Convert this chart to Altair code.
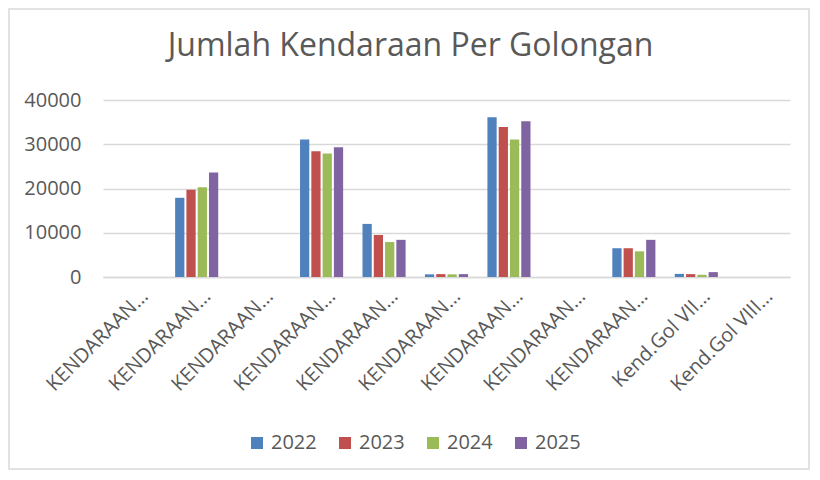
import json
import altair as alt
import pandas as pd

categories = [
    "KENDARAAN GOL I", "KENDARAAN GOL II", "KENDARAAN GOL III",
    "KENDARAAN GOL IVA", "KENDARAAN GOL IVB", "KENDARAAN GOL VA",
    "KENDARAAN GOL VB", "KENDARAAN GOL VIA", "KENDARAAN GOL VIB",
    "Kend.Gol VII (panjang 10-12 m)", "Kend.Gol VIII (panjang 12-16 m)",
]
tick_labels = ["KENDARAAN…"] * 9 + ["Kend.Gol VII…", "Kend.Gol VIII…"]
years = ["2022", "2023", "2024", "2025"]
v2022 = [0, 17900, 0, 31100, 12000, 600, 36100, 0, 6500, 700, 0]
v2023 = [0, 19700, 0, 28400, 9500, 650, 33900, 0, 6500, 650, 0]
v2024 = [0, 20300, 0, 27900, 7900, 600, 31100, 0, 5800, 500, 0]
v2025 = [0, 23600, 0, 29300, 8400, 650, 35200, 0, 8400, 1100, 0]
colors = ["#4F81BD", "#C0504D", "#9BBB59", "#8064A2"]
y_ticks = [0, 10000, 20000, 30000, 40000]

rows = []
for yr, vals in zip(years, [v2022, v2023, v2024, v2025]):
    for c, v in zip(categories, vals):
        rows.append({"Golongan": c, "Tahun": yr, "Jumlah": v})
df = pd.DataFrame(rows)

FONT = "Open Sans"
GREY = "#595959"
W, H = 687, 177

label_expr = (
    json.dumps(tick_labels, ensure_ascii=False)
    + "[indexof(" + json.dumps(categories, ensure_ascii=False) + ", datum.label)]"
)

bars = alt.Chart(df).mark_bar().encode(
    x=alt.X("Golongan:N", sort=categories,
            scale=alt.Scale(paddingInner=0.31, paddingOuter=0.155),
            axis=alt.Axis(title=None, labelAngle=-45, labelAlign="right",
                          labelBaseline="alphabetic", labelPadding=20,
                          labelOffset=15, labelExpr=label_expr,
                          labelFont=FONT, labelFontSize=20, labelColor=GREY,
                          ticks=False, domainColor="#D9D9D9", domainWidth=1.5,
                          labelLimit=400)),
    xOffset=alt.XOffset("Tahun:N", sort=years,
                        scale=alt.Scale(paddingInner=0.18, paddingOuter=0)),
    y=alt.Y("Jumlah:Q", scale=alt.Scale(domain=[0, 40000], nice=False),
            axis=alt.Axis(title=None, values=y_ticks, format="d", ticks=False,
                          domain=False, gridColor="#D9D9D9", gridWidth=1.5,
                          labelFont=FONT, labelFontSize=20, labelColor=GREY,
                          labelPadding=22)),
    color=alt.Color("Tahun:N", sort=years,
                    scale=alt.Scale(domain=years, range=colors),
                    legend=alt.Legend(title=None, orient="none",
                                      direction="horizontal", legendX=144,
                                      legendY=333, symbolType="square",
                                      symbolSize=144, symbolStrokeWidth=0,
                                      labelFont=FONT, labelFontSize=20,
                                      labelColor=GREY, labelOffset=4,
                                      columnPadding=18)),
)

border = alt.Chart(pd.DataFrame({"a": [0]})).mark_rect(
    fill=None, stroke="#D9D9D9", strokeWidth=1.5
).encode(
    x=alt.value(-94), x2=alt.value(W + 19),
    y=alt.value(-91), y2=alt.value(H + 192),
)

chart = alt.layer(border, bars).properties(
    width=W, height=H,
    autosize=alt.AutoSizeParams(type="none"),
    padding={"left": 95, "top": 92, "right": 20, "bottom": 193},
    title=alt.TitleParams("Jumlah Kendaraan Per Golongan", font=FONT,
                          fontSize=32, fontWeight="normal", color=GREY,
                          anchor="middle", frame="group",
                          baseline="alphabetic", offset=-80, dx=-36),
).configure_view(stroke=None)

chart.save("out.html", embed_options={"renderer": "svg", "actions": False})
